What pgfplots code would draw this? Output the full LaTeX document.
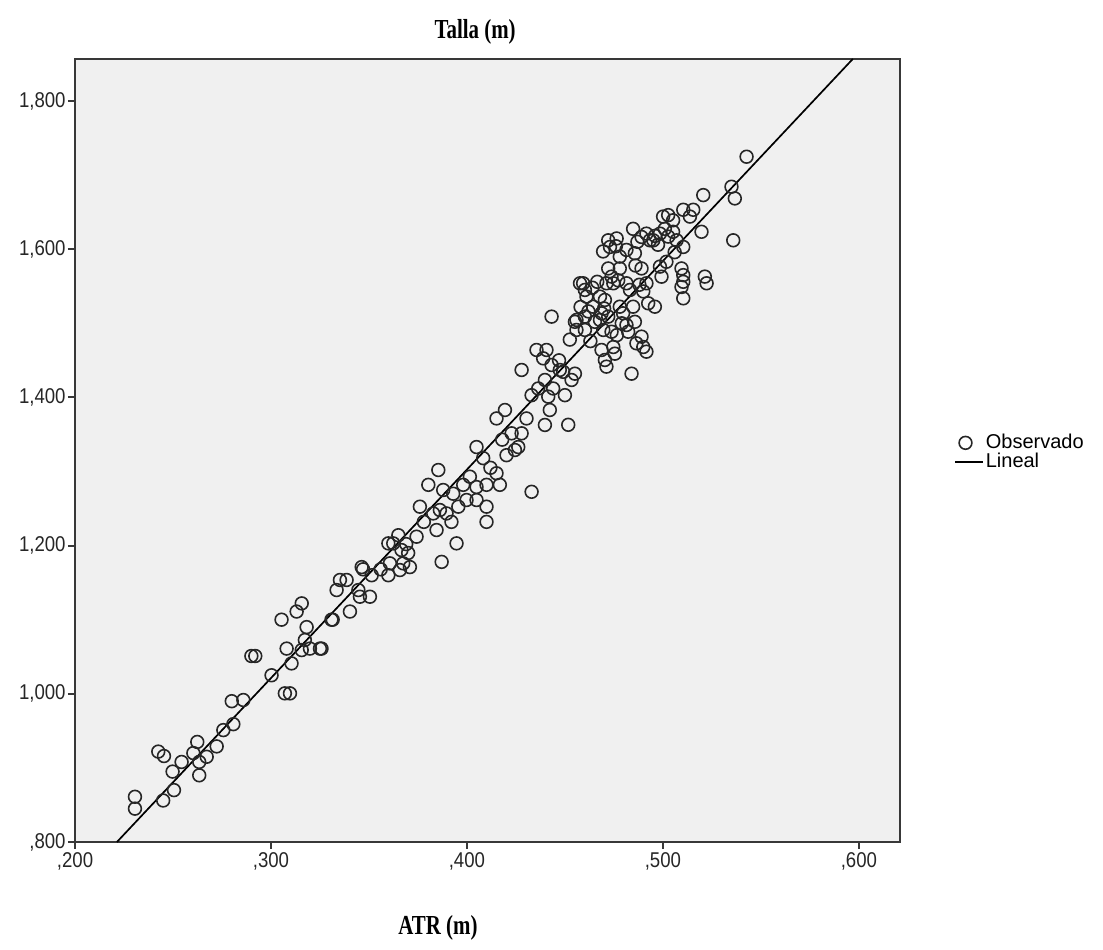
\documentclass[border=0pt]{standalone}
\usepackage{pgfplots}
\pgfplotsset{compat=1.18}
\usepackage{fontspec}
\setmainfont{Liberation Sans}
\newfontfamily\titlefont{Liberation Serif}
\definecolor{bgc}{HTML}{F0F0F0}
\definecolor{frm}{HTML}{383838}
\definecolor{mk}{HTML}{262626}
\pgfplotsset{
  obsleg/.style={legend image code/.code={\draw[##1] plot coordinates {(0.18cm,0cm)};}},
  linleg/.style={legend image code/.code={\draw[##1] (0cm,0cm) -- (0.48cm,0cm);}},
}
\newcommand{\tl}[1]{\scalebox{1}[1.15]{#1}}
\begin{document}
\begin{tikzpicture}
\begin{axis}[
  scale only axis,
  width=412.5pt, height=391.5pt,
  xmin=0.2, xmax=0.621, ymin=0.8, ymax=1.8567,
  axis background/.style={fill=bgc},
  axis line style={frm, line width=0.95pt},
  xtick={0.2,0.3,0.4,0.5,0.6},
  xticklabels={\tl{,200},\tl{,300},\tl{,400},\tl{,500},\tl{,600}},
  ytick={0.8,1.0,1.2,1.4,1.6,1.8},
  yticklabels={\tl{,800},\tl{1,000},\tl{1,200},\tl{1,400},\tl{1,600},\tl{1,800}},
  tick align=outside, xtick pos=left, ytick pos=left,
  major tick length=3.5pt,
  tick style={frm, line width=0.95pt},
  xticklabel style={font=\fontsize{9.3}{10}\selectfont, text=black!85, inner sep=1.5pt},
  yticklabel style={font=\fontsize{9.3}{10}\selectfont, text=black!85, inner sep=1pt},
  /pgf/number format/assume math mode=true,
  clip=false,
  legend style={at={(1,0.5)}, anchor=west, xshift=27pt, yshift=-1pt, draw=none, fill=none,
    font=\fontsize{10}{11}\selectfont, row sep=-1.5pt, inner sep=0pt,
    nodes={inner sep=1.2pt}},
  legend cell align=left,
]
\addplot[only marks, mark=o, mark size=3.2pt, mark options={draw=mk, line width=0.8pt}, obsleg]
  table[row sep=\\]{
x y\\
0.2306 0.861\\ 0.2306 0.845\\ 0.2425 0.922\\ 0.2454 0.916\\ 0.2450 0.856\\
0.2505 0.870\\ 0.2498 0.895\\ 0.2544 0.908\\ 0.2604 0.920\\ 0.2624 0.935\\
0.2634 0.908\\ 0.2634 0.890\\ 0.2672 0.915\\ 0.2723 0.929\\ 0.2757 0.951\\
0.2808 0.959\\ 0.2800 0.990\\ 0.2859 0.9916\\ 0.2900 1.051\\ 0.2920 1.051\\
0.3003 1.025\\ 0.3054 1.100\\ 0.3071 1.0006\\ 0.3097 1.0006\\ 0.3080 1.061\\
0.3105 1.041\\ 0.3131 1.111\\ 0.3157 1.122\\ 0.3182 1.090\\ 0.3173 1.0726\\
0.3157 1.059\\ 0.3199 1.061\\ 0.3250 1.061\\ 0.3258 1.061\\ 0.3309 1.100\\
0.3315 1.100\\ 0.3403 1.111\\ 0.3335 1.140\\ 0.3352 1.1536\\ 0.3386 1.1536\\
0.3446 1.140\\ 0.3454 1.131\\ 0.3505 1.131\\ 0.3463 1.171\\ 0.3470 1.168\\
0.3514 1.160\\ 0.3599 1.160\\ 0.3607 1.176\\ 0.3675 1.176\\ 0.3709 1.171\\
0.3658 1.167\\ 0.3871 1.178\\
0.3599 1.203\\ 0.3624 1.203\\ 0.3650 1.214\\ 0.3666 1.194\\ 0.3700 1.190\\
0.3743 1.212\\ 0.3760 1.2525\\ 0.3803 1.282\\ 0.3854 1.302\\ 0.3828 1.2434\\
0.3862 1.248\\ 0.3896 1.2434\\ 0.3879 1.275\\ 0.3845 1.221\\ 0.3921 1.232\\
0.3947 1.203\\ 0.3956 1.2525\\ 0.3981 1.282\\ 0.4015 1.293\\ 0.3998 1.2615\\
0.4049 1.2615\\ 0.4049 1.279\\ 0.4100 1.282\\ 0.4151 1.2976\\ 0.4168 1.282\\
0.4049 1.333\\ 0.4083 1.318\\ 0.4100 1.2525\\ 0.4100 1.232\\ 0.4330 1.2726\\
0.4151 1.3716\\ 0.4194 1.383\\ 0.4202 1.322\\ 0.4245 1.329\\ 0.4262 1.333\\
0.4228 1.3515\\ 0.4279 1.3515\\ 0.4304 1.3716\\ 0.4279 1.437\\ 0.4330 1.403\\
0.4364 1.412\\ 0.4355 1.464\\ 0.4406 1.464\\ 0.4389 1.4527\\ 0.4432 1.4437\\
0.4474 1.437\\ 0.4398 1.4235\\ 0.4415 1.401\\ 0.4423 1.383\\ 0.4398 1.3628\\
0.4500 1.403\\ 0.4517 1.363\\
0.4432 1.509\\ 0.4534 1.4235\\ 0.4551 1.432\\ 0.4491 1.4345\\ 0.4551 1.502\\
0.4559 1.491\\ 0.4602 1.509\\ 0.4602 1.491\\ 0.4593 1.554\\ 0.4602 1.545\\
0.4610 1.536\\ 0.4644 1.5224\\ 0.4653 1.502\\ 0.4679 1.536\\ 0.4704 1.5315\\
0.4687 1.5135\\ 0.4721 1.509\\ 0.4696 1.491\\ 0.4738 1.4886\\ 0.4687 1.464\\
0.4704 1.4505\\ 0.4712 1.4415\\ 0.4747 1.468\\ 0.4755 1.459\\ 0.4721 1.574\\
0.4738 1.563\\ 0.4747 1.554\\ 0.4780 1.5224\\ 0.4797 1.5135\\ 0.4814 1.4977\\
0.4823 1.4886\\ 0.4780 1.574\\ 0.4814 1.554\\ 0.4832 1.545\\ 0.4848 1.5224\\
0.4857 1.502\\ 0.4865 1.473\\ 0.4891 1.482\\ 0.4900 1.468\\ 0.4916 1.4617\\
0.4840 1.432\\ 0.4891 1.574\\ 0.4900 1.543\\ 0.4916 1.554\\ 0.4959 1.5224\\
0.4985 1.5765\\ 0.4993 1.5629\\ 0.5018 1.583\\ 0.4730 1.603\\ 0.4721 1.612\\
0.4764 1.6145\\ 0.4848 1.6275\\ 0.4780 1.590\\ 0.4814 1.599\\ 0.4857 1.5945\\
0.4891 1.6165\\ 0.4916 1.621\\ 0.4934 1.612\\ 0.4951 1.612\\ 0.4985 1.621\\
0.5010 1.6275\\ 0.5001 1.644\\ 0.5027 1.646\\ 0.5052 1.639\\ 0.5027 1.617\\
0.5052 1.6235\\ 0.5070 1.612\\ 0.5104 1.603\\ 0.5104 1.6532\\ 0.5138 1.644\\
0.5155 1.6532\\ 0.5206 1.673\\ 0.5197 1.6235\\ 0.5095 1.574\\ 0.5104 1.565\\
0.5104 1.556\\ 0.5095 1.549\\ 0.5104 1.5337\\ 0.5214 1.563\\ 0.5223 1.554\\
0.5350 1.6843\\ 0.5367 1.6685\\ 0.5359 1.612\\ 0.5427 1.7248\\
0.4577 1.554\\ 0.4559 1.5045\\ 0.4679 1.5045\\ 0.4712 1.554\\ 0.4772 1.558\\
0.4700 1.520\\
0.4640 1.548\\ 0.4665 1.556\\ 0.4695 1.597\\ 0.4760 1.604\\ 0.4870 1.610\\
0.4960 1.618\\ 0.4975 1.606\\ 0.4860 1.578\\ 0.4790 1.500\\ 0.4765 1.484\\
0.4630 1.476\\ 0.4620 1.516\\ 0.4925 1.527\\ 0.4880 1.552\\ 0.5060 1.596\\
0.4580 1.522\\ 0.4525 1.478\\ 0.4470 1.450\\ 0.4440 1.412\\ 0.4180 1.343\\
0.4120 1.305\\ 0.3930 1.270\\ 0.3780 1.232\\ 0.3690 1.202\\ 0.3560 1.168\\
};
\addlegendentry{Observado}
\addplot[black, line width=0.85pt, linleg]
  coordinates {(0.2214,0.8) (0.5969,1.8567)};
\addlegendentry{Lineal}
\node[font=\titlefont\bfseries\fontsize{11}{12}\selectfont, anchor=center]
  at (rel axis cs:0.485,1) [yshift=13.5pt] {\scalebox{0.95}[1.25]{Talla (m)}};
\node[font=\titlefont\bfseries\fontsize{11}{12}\selectfont, anchor=center]
  at (rel axis cs:0.44,0) [yshift=-43pt] {\scalebox{0.95}[1.25]{ATR (m)}};
\end{axis}
\path (current axis.south west) ++(-37.5pt,-54pt) coordinate (bl);
\path (current axis.north east) ++(101.5pt,29.5pt) coordinate (tr);
\path (bl) rectangle (tr);
\end{tikzpicture}
\end{document}
